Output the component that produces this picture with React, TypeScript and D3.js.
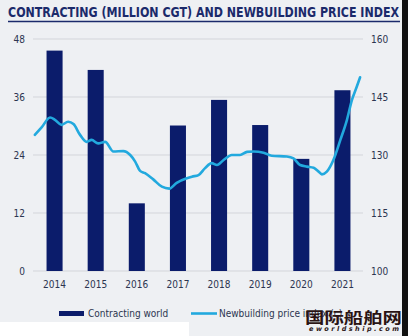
import React from "react";
import * as d3 from "d3";

const years = ["2014", "2015", "2016", "2017", "2018", "2019", "2020", "2021"];
const contracting = [45.6, 41.6, 14.0, 30.1, 35.4, 30.2, 23.2, 37.4];
const leftTicks = [0, 12, 24, 36, 48];
const rightTicks = [100, 115, 130, 145, 160];

const priceDates = [
  2014.02, 2014.19, 2014.39, 2014.51, 2014.67, 2014.83, 2014.96, 2015.12, 2015.28, 2015.4,
  2015.56, 2015.73, 2015.93, 2016.17, 2016.34, 2016.46, 2016.58, 2016.7, 2016.9, 2017.11,
  2017.29, 2017.47, 2017.72, 2017.84, 2018.0, 2018.16, 2018.32, 2018.45, 2018.61, 2018.81,
  2019.01, 2019.18, 2019.34, 2019.58, 2019.78, 2020.15, 2020.31, 2020.47, 2020.64, 2020.8,
  2020.92, 2021.0, 2021.12, 2021.28, 2021.45, 2021.61, 2021.73, 2021.85, 2021.93,
];
const priceIndex = [
  135.2, 137.2, 139.7, 139.1, 137.8, 138.6, 138.0, 135.2, 133.4, 133.9,
  133.0, 133.4, 130.9, 131.0, 130.0, 128.3, 125.9, 125.3, 123.7, 121.8,
  121.3, 122.8, 124.0, 124.4, 124.8, 126.6, 127.9, 127.4, 128.7, 130.0,
  130.0, 130.8, 130.9, 130.6, 129.8, 129.6, 129.1, 127.4, 127.0, 126.7,
  125.7, 125.0, 125.7, 128.7, 133.9, 139.1, 144.2, 147.7, 150.1,
];

const titleText = "CONTRACTING (MILLION CGT) AND NEWBUILDING PRICE INDEX";
const legendBar = "Contracting world";
const legendLine = "Newbuilding price index (c)";

const W = 408;
const H = 336;
const X0 = 34;
const X1 = 363;
const Y0 = 271;
const Y1 = 39;

const NAVY = "#0b1c6b";
const BLUE = "#22a9de";
const TEXT = "#2c3550";
const FONT = "'DejaVu Sans Condensed', 'DejaVu Sans', sans-serif";

export default function App() {
  const xBand = d3
    .scaleBand<string>()
    .domain(years)
    .range([X0, X1])
    .paddingInner(0.61)
    .paddingOuter(0.305);
  const xTime = d3.scaleLinear().domain([2014, 2022]).range([X0, X1]);
  const yLeft = d3.scaleLinear().domain([0, 48]).range([Y0, Y1]);
  const yRight = d3.scaleLinear().domain([100, 160]).range([Y0, Y1]);

  const line = d3
    .line<number>()
    .x((_, i) => xTime(priceDates[i]))
    .y((d) => yRight(d))
    .curve(d3.curveMonotoneX);

  return (
    <svg
      width={W}
      height={H}
      style={{ position: "absolute", left: 0, top: 0, display: "block" }}
    >
      <rect x={0} y={0} width={W} height={H} fill="#eef0f3" />
      <rect x={402} y={0} width={6} height={H} fill="#111" />
      <rect x={0} y={322} width={189} height={14} fill="#ffffff" />

      <text
        x={8}
        y={16.5}
        fontFamily={FONT}
        fontWeight="bold"
        fontSize={13.5}
        fill="#1b2a6b"
        textLength={391}
        lengthAdjust="spacingAndGlyphs"
      >
        {titleText}
      </text>
      <line x1={8} x2={400} y1={21.5} y2={21.5} stroke="#1b2a6b" strokeWidth={1.5} />

      {leftTicks.map((t) => (
        <g key={"g" + t}>
          <line x1={X0 - 1} x2={X1} y1={yLeft(t)} y2={yLeft(t)} stroke="#d3d5da" strokeWidth={1} />
          <text
            x={25}
            y={yLeft(t) + 3.5}
            textAnchor="end"
            fontFamily={FONT}
            fontSize={10}
            fill={TEXT}
          >
            {t}
          </text>
        </g>
      ))}
      {rightTicks.map((t) => (
        <text
          key={"r" + t}
          x={371}
          y={yRight(t) + 3.5}
          fontFamily={FONT}
          fontSize={10}
          fill={TEXT}
        >
          {t}
        </text>
      ))}

      {years.map((yr, i) => (
        <rect
          key={yr}
          x={xBand(yr)}
          y={yLeft(contracting[i])}
          width={xBand.bandwidth()}
          height={Y0 - yLeft(contracting[i])}
          fill={NAVY}
        />
      ))}

      <path d={line(priceIndex) || ""} fill="none" stroke={BLUE} strokeWidth={2.6} strokeLinejoin="round" strokeLinecap="round" />

      {years.map((yr) => (
        <text
          key={"x" + yr}
          x={(xBand(yr) || 0) + xBand.bandwidth() / 2}
          y={287.5}
          textAnchor="middle"
          fontFamily={FONT}
          fontSize={10}
          fill={TEXT}
        >
          {yr}
        </text>
      ))}

      <rect x={59} y={311} width={25} height={5} fill={NAVY} />
      <text x={88} y={317} fontFamily={FONT} fontSize={10} fill={TEXT}>
        {legendBar}
      </text>
      <line x1={191} x2={217} y1={313.5} y2={313.5} stroke={BLUE} strokeWidth={2.6} />
      <text x={219} y={317} fontFamily={FONT} fontSize={10} fill={TEXT}>
        {legendLine}
      </text>

      <text
        x={305}
        y={323}
        fontFamily="'Noto Sans CJK SC', sans-serif"
        fontWeight="bold"
        fontSize={15}
        fill="#2a1414"
        textLength={97}
        lengthAdjust="spacingAndGlyphs"
      >
        国际船舶网
      </text>
      <text
        x={309}
        y={331}
        fontFamily="'DejaVu Sans', sans-serif"
        fontWeight="bold"
        fontStyle="italic"
        fontSize={6.5}
        fill="#2a1414"
        textLength={90}
        lengthAdjust="spacing"
      >
        eworldship.com
      </text>
    </svg>
  );
}
